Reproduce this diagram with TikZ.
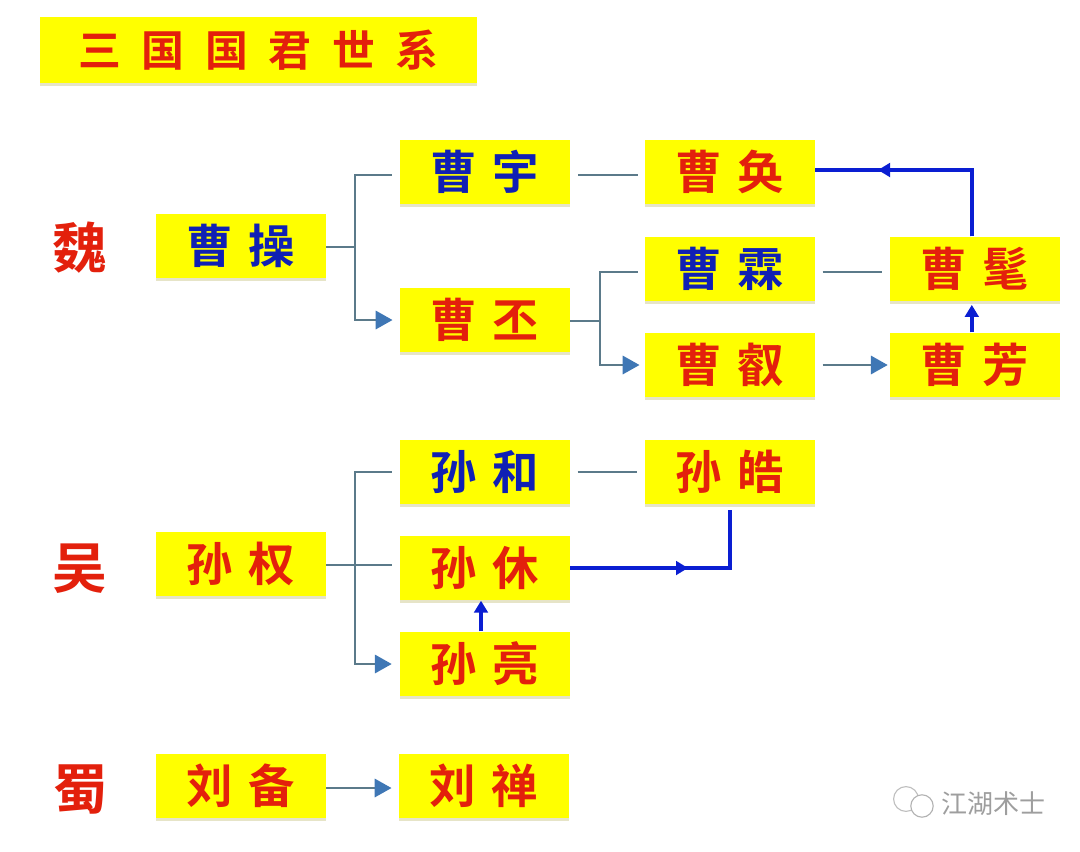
\documentclass[tikz,border=0pt]{standalone}
\usepackage{fontspec}
\usepackage{tikz}
\usetikzlibrary{arrows.meta,shadows}
\newfontfamily\cjk{Noto Sans CJK SC}[BoldFont={Noto Sans CJK SC Bold}]
\definecolor{boxyellow}{HTML}{FFFF00}
\definecolor{namered}{HTML}{E3200C}
\definecolor{nameblue}{HTML}{1020B4}
\definecolor{linegrey}{HTML}{5B7A8A}
\definecolor{tipblue}{HTML}{3F77B5}
\definecolor{pathblue}{HTML}{0A1ED2}
\newcommand{\gapname}[2]{#1\hspace{0.33em}#2}
\begin{document}
\begin{tikzpicture}[
		x=0.025cm, y=-0.025cm,
		box/.style={rectangle, fill=boxyellow, minimum width=4.25cm, minimum height=1.62cm, inner sep=0pt,
			font=\cjk\bfseries\fontsize{33}{36}\selectfont,
			drop shadow={shadow xshift=0cm, shadow yshift=-0.07cm, opacity=0.22, fill=olive}},
		red box/.style={box, text=namered},
		blue box/.style={box, text=nameblue},
		kingdom/.style={text=namered, inner sep=0pt, font=\cjk\bfseries\fontsize{39}{44}\selectfont},
		link/.style={draw=linegrey, line width=1.4pt},
		arrow link/.style={link, -{Triangle[length=0.42cm, width=0.46cm, color=tipblue]}},
		path link/.style={draw=pathblue, line width=2.7pt},
		arrow path/.style={path link, -{Triangle[length=0.3cm, width=0.34cm]}}
	]
  \useasboundingbox (0,0) rectangle (1080,851);
  \node (title) [red box, minimum width=10.92cm, minimum height=1.65cm, font=\cjk\bfseries\fontsize{30.5}{34}\selectfont] at (258.5,50) {三\hspace{0.48em}国\hspace{0.48em}国\hspace{0.48em}君\hspace{0.48em}世\hspace{0.48em}系};

  \node (wei) [kingdom] at (80,248) {魏};
  \node (wu) [kingdom] at (80,569) {吴};
  \node (shu) [kingdom] at (81,789) {蜀};

  \node (cao_cao) [blue box] at (241,246) {\gapname{曹}{操}};
  \node (cao_yu) [blue box] at (485,172) {\gapname{曹}{宇}};
  \node (cao_huan) [red box] at (730,172) {\gapname{曹}{奂}};
  \node (cao_pi) [red box] at (485,320) {\gapname{曹}{丕}};
  \node (cao_lin) [blue box] at (730,269) {\gapname{曹}{霖}};
  \node (cao_rui) [red box] at (730,365) {\gapname{曹}{叡}};
  \node (cao_mao) [red box] at (975,269) {\gapname{曹}{髦}};
  \node (cao_fang) [red box] at (975,365) {\gapname{曹}{芳}};

  \node (sun_quan) [red box] at (241,564) {\gapname{孙}{权}};
  \node (sun_he) [blue box] at (485,472) {\gapname{孙}{和}};
  \node (sun_hao) [red box] at (730,472) {\gapname{孙}{皓}};
  \node (sun_xiu) [red box] at (485,568) {\gapname{孙}{休}};
  \node (sun_liang) [red box] at (485,664) {\gapname{孙}{亮}};

  \node (liu_bei) [red box] at (241,786) {\gapname{刘}{备}};
  \node (liu_shan) [red box] at (484,786) {\gapname{刘}{禅}};

  \coordinate (cao_trunk) at (355,247);
  \coordinate (pi_trunk) at (600,321);
  \coordinate (sun_trunk) at (355,565);
  \coordinate (huan_tip) at (878,170);
  \coordinate (hao_tip) at (688,568);

  \draw [link] (cao_cao.east |- cao_trunk) -- (cao_trunk);
  \draw [link] (cao_trunk) |- ([xshift=-0.2cm, yshift=-0.08cm]cao_yu.west);
  \draw [arrow link] (cao_trunk) |- ([xshift=-0.18cm]cao_pi.west);
  \draw [link] ([xshift=0.2cm, yshift=-0.08cm]cao_yu.east) -- ([xshift=-0.18cm, yshift=-0.08cm]cao_huan.west);
  \draw [link] (cao_pi.east |- pi_trunk) -- (pi_trunk);
  \draw [link] (pi_trunk) |- ([xshift=-0.18cm, yshift=-0.08cm]cao_lin.west);
  \draw [arrow link] (pi_trunk) |- ([xshift=-0.13cm]cao_rui.west);
  \draw [link] ([xshift=0.18cm, yshift=-0.08cm]cao_lin.east) -- ([xshift=-0.2cm, yshift=-0.08cm]cao_mao.west);
  \draw [arrow link] ([xshift=0.18cm]cao_rui.east) -- ([xshift=-0.05cm]cao_fang.west);

  \draw [path link] ([xshift=-0.08cm]cao_mao.north) |- ([yshift=0.05cm]cao_huan.east);
  \draw [arrow path] ([xshift=-0.08cm]cao_mao.north) |- (huan_tip);
  \draw [arrow path] ([xshift=-0.08cm]cao_fang.north) -- ([xshift=-0.08cm, yshift=-0.08cm]cao_mao.south);

  \draw [link] (sun_quan.east |- sun_trunk) -- ([xshift=-0.18cm]sun_xiu.west |- sun_trunk);
  \draw [link] (sun_trunk) |- ([xshift=-0.2cm]sun_he.west);
  \draw [arrow link] (sun_trunk) |- ([xshift=-0.2cm]sun_liang.west);
  \draw [link] ([xshift=0.18cm]sun_he.east) -- ([xshift=-0.2cm]sun_hao.west);

  \draw [path link] (sun_xiu.east) -| ([yshift=-0.12cm]sun_hao.south);
  \draw [arrow path] (sun_xiu.east) -- (hao_tip);
  \draw [arrow path] ([xshift=-0.1cm]sun_liang.north) -- ([xshift=-0.1cm]sun_xiu.south);

  \draw [arrow link] ([yshift=-0.05cm]liu_bei.east) -- ([xshift=-0.18cm, yshift=-0.05cm]liu_shan.west);

  \node (wechat_big) [circle, draw=black!25, line width=0.8pt, minimum size=0.62cm, inner sep=0pt] at (906,799) {};
  \node (wechat_small) [circle, draw=black!30, fill=white, line width=0.8pt, minimum size=0.56cm, inner sep=0pt] at (922,806) {};
  \node (watermark) [text=black!38, inner sep=0pt, font=\cjk\fontsize{18.5}{20}\selectfont] at (993.5,804) {江湖术士};
\end{tikzpicture}
\end{document}
